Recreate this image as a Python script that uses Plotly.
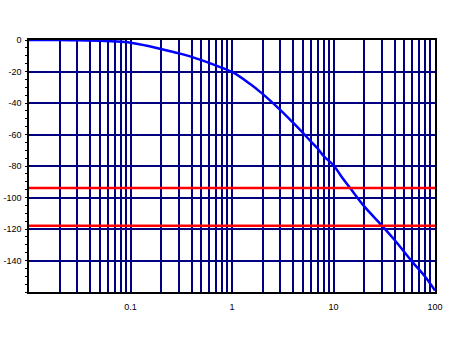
import plotly.graph_objects as go

# Frequency response
freq = [0.01, 0.02, 0.03, 0.05, 0.07, 0.1, 0.15, 0.2, 0.3, 0.4, 0.5, 0.7, 1, 1.5, 2, 3,
        4, 5, 6, 7, 8, 10, 12, 14.4, 20, 30, 40, 60, 80, 100]
gain_db = [0, -0.05, -0.15, -0.5, -0.9, -1.7, -3.8, -5.7, -8.5, -10.7, -12.8, -16.3, -20.3,
           -27.8, -34.2, -44.5, -52.5, -59, -64.5, -69, -73.7, -79.5, -86.8, -93.5,
           -105.5, -117.8, -127, -141, -150.3, -159]

ref_levels = [-94, -118]

x_tick_vals = [0.1, 1, 10, 100]
x_tick_text = ["0.1", "1", "10", "100"]
x_minor_vals = [m * d for d in [0.01, 0.1, 1, 10] for m in range(2, 10)] + [0.1, 1, 10]
y_tick_vals = [0, -20, -40, -60, -80, -100, -120, -140]
y_tick_text = ["0", "-20", "-40", "-60", "-80", "-100", "-120", "-140"]

fig = go.Figure()
fig.add_trace(go.Scatter(x=freq, y=gain_db, mode="lines", line_shape="spline",
                         line=dict(color="#0000FF", width=2.5), hoverinfo="skip"))
for lvl in ref_levels:
    fig.add_trace(go.Scatter(x=[0.01, 100], y=[lvl, lvl], mode="lines",
                             line=dict(color="#FF0000", width=2.5), hoverinfo="skip"))

font = dict(family="Liberation Sans", size=9, color="black")

fig.update_layout(
    width=449, height=349,
    margin=dict(l=29, r=14, t=40, b=57),
    paper_bgcolor="white", plot_bgcolor="white",
    showlegend=False,
    font=font,
    xaxis=dict(
        type="log", range=[-2, 2], automargin=False,
        tickmode="array", tickvals=x_tick_vals, ticktext=x_tick_text,
        showgrid=False, ticks="outside", ticklen=5, tickcolor="rgba(0,0,0,0)",
        tickfont=font,
        showline=True, linecolor="black", linewidth=1.5, mirror=True,
        zeroline=False,
        minor=dict(tickmode="array", tickvals=x_minor_vals, showgrid=True,
                   gridcolor="#000080", gridwidth=1.5, ticks=""),
    ),
    yaxis=dict(
        range=[-160, 0], automargin=False,
        tickmode="array", tickvals=y_tick_vals, ticktext=y_tick_text,
        showgrid=True, gridcolor="#000080", gridwidth=1.5,
        ticks="outside", ticklen=4, tickcolor="rgba(0,0,0,0)", tickfont=font,
        showline=True, linecolor="black", linewidth=1.5, mirror=True,
        zeroline=False,
        minor=dict(dtick=5, ticks="outside", ticklen=2, tickcolor="black",
                   showgrid=False),
    ),
)

fig.write_html("out.html")
